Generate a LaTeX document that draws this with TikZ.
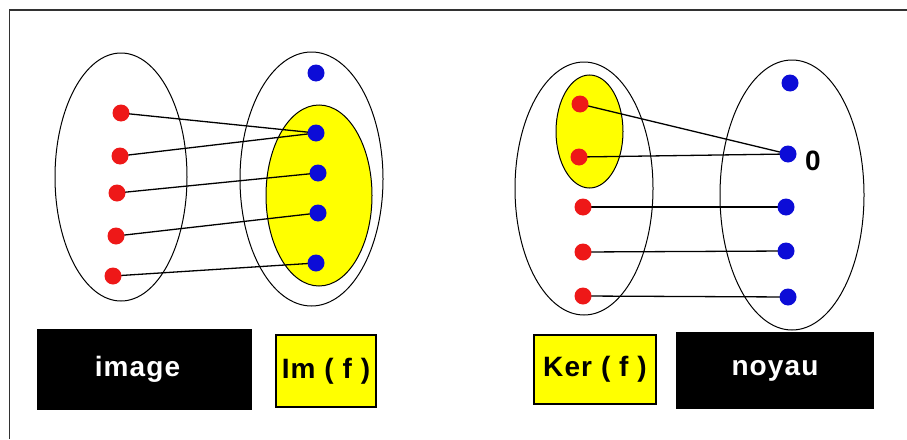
\documentclass[tikz,border=0pt]{standalone}
\usepackage{fontspec}
\setmainfont{Liberation Sans}
\newfontfamily\captionfont[LetterSpace=4]{Liberation Sans}
\usetikzlibrary{backgrounds}
\definecolor{dotred}{RGB}{238,24,24}
\definecolor{dotblue}{RGB}{12,12,215}
\definecolor{setyellow}{RGB}{255,255,0}
\definecolor{framegray}{RGB}{50,50,50}
\begin{document}
\begin{tikzpicture}[x=1pt,y=-1pt,
  rdot/.style={circle,fill=dotred,inner sep=0pt,minimum size=17pt},
  bdot/.style={circle,fill=dotblue,inner sep=0pt,minimum size=17pt},
  setline/.style={draw=black,line width=1pt},
  subset/.style={setline,fill=setyellow},
  mapline/.style={draw=black,line width=1.3pt},
  bigfont/.style={font=\captionfont\bfseries\fontsize{28}{32}\selectfont},
  darklabel/.style={bigfont,fill=black,text=white,inner sep=0pt},
  lightlabel/.style={bigfont,fill=setyellow,draw=black,line width=2pt,text=black,inner sep=0pt}]
  \useasboundingbox (0,0) rectangle (907,439);
  % frame (open on the right and at the bottom)
  \draw[framegray,line width=1.6pt] (9.5,439) -- (9.5,10) -- (907,10);

  % ---- image: domain and codomain ----
  \node[rdot] (a1) at (121,113) {};
  \node[rdot] (a2) at (120,156) {};
  \node[rdot] (a3) at (117,193) {};
  \node[rdot] (a4) at (116,236) {};
  \node[rdot] (a5) at (113,276) {};
  \node[bdot] (c0) at (316,73) {};
  \node[bdot] (c1) at (316,133) {};
  \node[bdot] (c2) at (318,173) {};
  \node[bdot] (c3) at (318,213) {};
  \node[bdot] (c4) at (316,263) {};

  % ---- kernel: domain and codomain ----
  \node[rdot] (k1) at (580,104) {};
  \node[rdot] (k2) at (579,157) {};
  \node[rdot] (k3) at (583,207) {};
  \node[rdot] (k4) at (583,252) {};
  \node[rdot] (k5) at (583,296) {};
  \node[bdot] (n0) at (790,83) {};
  \node[bdot] (n1) at (788,154) {};
  \node[bdot] (n2) at (786,207) {};
  \node[bdot] (n3) at (786,251) {};
  \node[bdot] (n4) at (788,297) {};
  \node[font=\bfseries\fontsize{28}{32}\selectfont,inner sep=0pt] (zero) at (813,161) {0};

  \begin{scope}[on background layer]
    \draw[setline] (121,177) ellipse [x radius=66, y radius=124];
    \draw[setline] (311.5,179) ellipse [x radius=71.5, y radius=127];
    \draw[subset] (319,195.5) ellipse [x radius=53, y radius=90.5];
    \draw[setline] (584,188.5) ellipse [x radius=69, y radius=126.5];
    \draw[subset] (589.5,131.5) ellipse [x radius=33.5, y radius=56.5];
    \draw[setline] (792,195) ellipse [x radius=72, y radius=135];

    \draw[mapline] (a1.center) -- (c1.center);
    \draw[mapline] (a2.center) -- (c1.center);
    \draw[mapline] (a3.center) -- (c2.center);
    \draw[mapline] (a4.center) -- (c3.center);
    \draw[mapline] (a5.center) -- (c4.center);

    \draw[mapline] (k1.center) -- (n1.center);
    \draw[mapline] (k2.center) -- (n1.center);
    \draw[mapline] (k3.center) -- (n2.center);
    \draw[mapline] (k4.center) -- (n3.center);
    \draw[mapline] (k5.center) -- (n4.center);
  \end{scope}

  % ---- captions ----
  \node[darklabel,minimum width=215pt,minimum height=81pt] (imgbox) at (144.5,369.5) {image\kern14pt\null};
  \node[lightlabel,minimum width=100pt,minimum height=72pt] (imbox) at (326,371) {Im ( f )};
  \node[lightlabel,minimum width=122pt,minimum height=69pt] (kerbox) at (595,369.5) {Ker ( f )};
  \node[darklabel,minimum width=198pt,minimum height=77pt] (noyaubox) at (775,370.5) {noyau};
\end{tikzpicture}
\end{document}
